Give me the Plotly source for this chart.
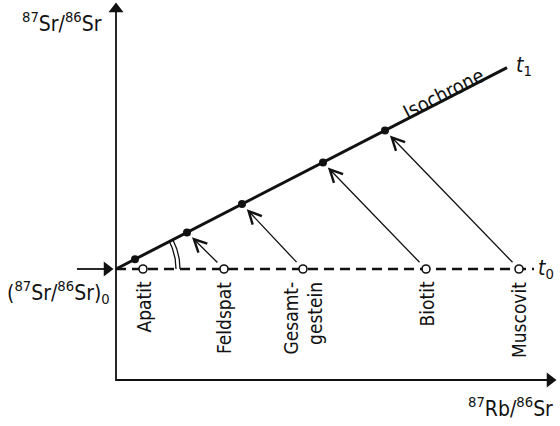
import numpy as np
import plotly.graph_objects as go

# --- schematic data (arbitrary units, 1 unit ~ 1 px) ---
minerals = ["Apatit", "Feldspat", "Gesamt-<br>gestein", "Biotit", "Muscovit"]
rb_t0 = [27, 108, 187, 310, 403]       # 87Rb/86Sr at t0 (open circles)
rb_t1 = [19, 71, 126, 207, 269]        # 87Rb/86Sr at t1 (filled circles)
sr_initial = 111                       # (87Sr/86Sr)0
isochrone_slope = 0.515
sr_t1 = [sr_initial + isochrone_slope * x for x in rb_t1]

x_axis_end = 441
y_axis_end = 378
isochrone_end = 391
t0_line_end = 418
ratio_arrow_start = -39
head = 7  # half length of arrow-head markers

FONT = "DejaVu Sans Condensed, Liberation Sans Narrow, Arial Narrow, sans-serif"
INK = "#111111"

fig = go.Figure()

# axes
fig.add_trace(go.Scatter(x=[0, 0, x_axis_end - head], y=[y_axis_end - head, 0, 0], mode="lines",
                         line=dict(color=INK, width=1.8), hoverinfo="skip"))
fig.add_trace(go.Scatter(x=[0], y=[y_axis_end - head], mode="markers",
                         marker=dict(symbol="triangle-up", size=13, color=INK), hoverinfo="skip"))
fig.add_trace(go.Scatter(x=[x_axis_end - head, -2 - head], y=[0, sr_initial], mode="markers",
                         marker=dict(symbol="triangle-right", size=13, color=INK), hoverinfo="skip"))
# initial ratio arrow shaft
fig.add_trace(go.Scatter(x=[ratio_arrow_start, -2 - head], y=[sr_initial, sr_initial], mode="lines",
                         line=dict(color=INK, width=1.8), hoverinfo="skip"))
# t0 dashed line
fig.add_trace(go.Scatter(x=[0, t0_line_end], y=[sr_initial, sr_initial], mode="lines",
                         line=dict(color=INK, width=2.5, dash="10px,6px"), hoverinfo="skip"))
# isochrone
fig.add_trace(go.Scatter(x=[0, isochrone_end], y=[sr_initial, sr_initial + isochrone_slope * isochrone_end],
                         mode="lines", line=dict(color=INK, width=3), hoverinfo="skip"))
# angle arcs
theta = np.linspace(0, np.arctan(isochrone_slope), 30)
for r in (60, 64):
    fig.add_trace(go.Scatter(x=r * np.cos(theta), y=sr_initial + r * np.sin(theta), mode="lines",
                             line=dict(color=INK, width=1.3), hoverinfo="skip"))
# points
fig.add_trace(go.Scatter(x=rb_t1, y=sr_t1, mode="markers",
                         marker=dict(size=8, color=INK), hoverinfo="skip"))
fig.add_trace(go.Scatter(x=rb_t0, y=[sr_initial] * len(rb_t0), mode="markers",
                         marker=dict(size=8, color="white", line=dict(color=INK, width=1.6)),
                         hoverinfo="skip"))

ann = []
# decay arrows
for i in range(1, len(minerals)):
    ann.append(dict(x=rb_t1[i], y=sr_t1[i], ax=rb_t0[i], ay=sr_initial,
                    axref="x", ayref="y", showarrow=True, arrowhead=5, arrowsize=1.9,
                    arrowwidth=1.3, arrowcolor=INK, standoff=7, startstandoff=5, text=" "))

# mineral labels
for i, name in enumerate(minerals):
    ann.append(dict(x=rb_t0[i], y=100, text=name, showarrow=False,
                    textangle=-90, xanchor="center", yanchor="top", align="right",
                    font=dict(family=FONT, size=19, color=INK)))

ann += [
    dict(x=-54, y=358, text="<sup>87</sup>Sr/<sup>86</sup>Sr", showarrow=False,
         font=dict(family=FONT, size=21, color=INK)),
    dict(x=394, y=-27, text="<sup>87</sup>Rb/<sup>86</sup>Sr", showarrow=False,
         font=dict(family=FONT, size=21, color=INK)),
    dict(x=-58, y=88, text="(<sup>87</sup>Sr/<sup>86</sup>Sr)<sub>0</sub>", showarrow=False,
         font=dict(family=FONT, size=21, color=INK)),
    dict(x=327, y=286, text="Isochrone", showarrow=False, textangle=-27,
         font=dict(family=FONT, size=20, color=INK)),
    dict(x=408, y=314, text="<i>t</i><sub>1</sub>", showarrow=False,
         font=dict(family=FONT, size=21, color=INK)),
    dict(x=430, y=111, text="<i>t</i><sub>0</sub>", showarrow=False,
         font=dict(family=FONT, size=21, color=INK)),
]
for a in ann:
    a["xref"] = "x"
    a["yref"] = "y"

fig.update_layout(
    width=560, height=426, margin=dict(l=0, r=0, t=0, b=0),
    paper_bgcolor="white", plot_bgcolor="white", showlegend=False,
    xaxis=dict(range=[-116, 444], visible=False, fixedrange=True),
    yaxis=dict(range=[-46, 380], visible=False, fixedrange=True),
    annotations=ann,
)
fig.write_html("out.html", config={"displayModeBar": False},
               post_script="document.body.style.margin='0';document.body.style.overflow='hidden';")
